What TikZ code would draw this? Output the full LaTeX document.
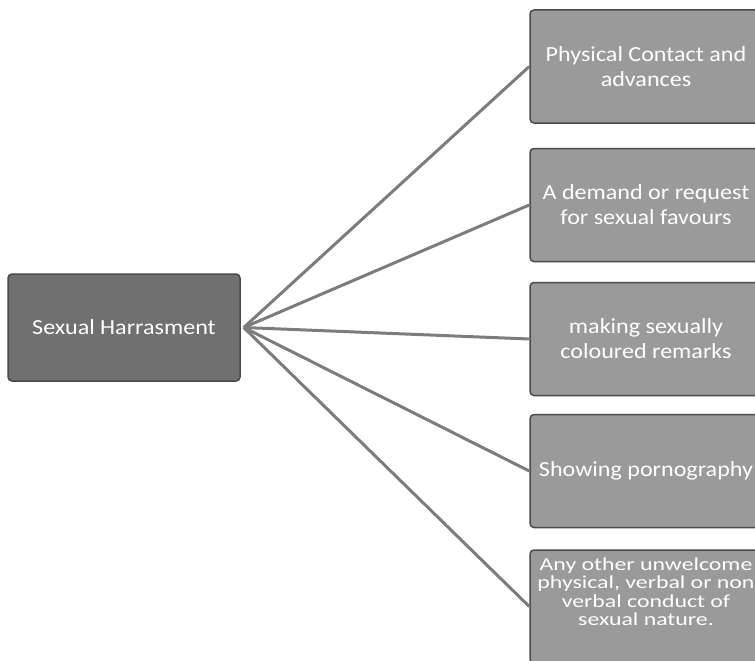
\documentclass[tikz,border=0pt]{standalone}
\usepackage{fontspec}
\setmainfont{Carlito}[FakeStretch=1.12]
\newfontfamily\widecarlito{Carlito}[FakeStretch=1.3]
\definecolor{hubfill}{HTML}{707070}
\definecolor{leaffill}{HTML}{9A9A9A}
\definecolor{boxline}{HTML}{4A4A4A}
\definecolor{linkgray}{HTML}{7C7C7C}
\begin{document}
\begin{tikzpicture}[x=1pt,y=-1pt,
  hub/.style={draw=boxline, fill=hubfill, rounded corners=4pt, line width=1.5pt,
    minimum width=232pt, minimum height=107pt, inner sep=0pt, text=white,
    font=\fontsize{21.5}{25}\selectfont, align=center},
  leaf/.style={hub, fill=leaffill, minimum height=113pt},
  lbl/.style={text=white, font=\widecarlito\fontsize{18.3}{18.5}\selectfont, align=center, inner sep=0pt},
  link/.style={draw=linkgray, line width=3pt}]
\useasboundingbox (0,0) rectangle (755,661);
\clip (0,0) rectangle (755,661);
\node[hub] (h) at (124,327.5) {Sexual Harrasment};
\node[leaf] (a) at (646,66.5) {Physical Contact and\\advances};
\node[leaf] (b) at (646,205) {A demand or request\\for sexual favours};
\node[leaf] (c) at (646,339) {making sexually\\coloured remarks};
\node[leaf] (d) at (646,471) {Showing pornography};
\node[leaf, label={[lbl, yshift=15pt]center:Any other unwelcome\\physical, verbal or non\\verbal conduct of\\sexual nature.}] (e) at (646,606.5) {};
\foreach \t in {a,b,c,d,e}
  \draw[link] ([xshift=3pt]h.east) -- (\t.west);
\end{tikzpicture}
\end{document}
